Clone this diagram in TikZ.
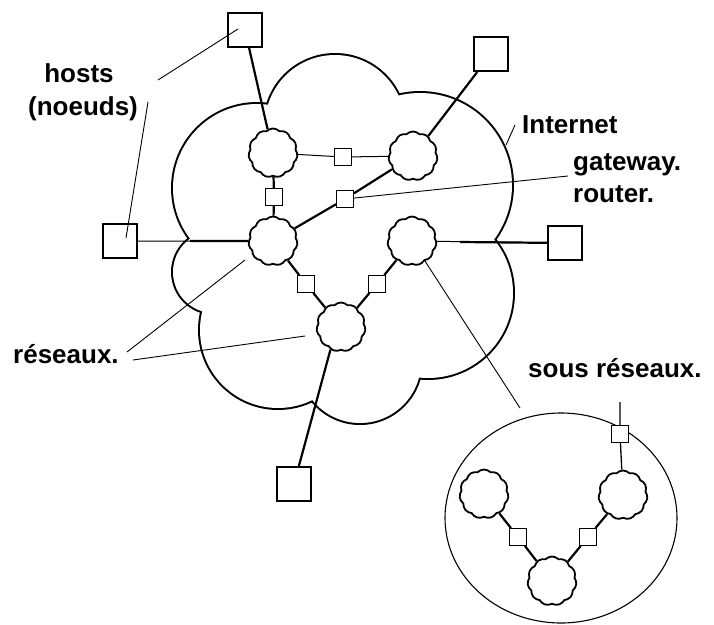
\documentclass[tikz,border=0pt]{standalone}
\usepackage{fontspec}
\setmainfont{Liberation Sans}
\usetikzlibrary{shapes.symbols,shapes.geometric}
\begin{document}
\begin{tikzpicture}[x=1pt,y=-1pt,
  host/.style={draw, line width=2pt, minimum size=34pt, inner sep=0pt},
  gate/.style={draw, line width=1.4pt, minimum size=16.5pt, inner sep=0pt, fill=white},
  net/.style={cloud, cloud puffs=11, cloud puff arc=90, aspect=1, draw, line width=1.8pt, minimum size=49pt, inner sep=0pt, fill=white},
  thicklink/.style={line width=2.2pt},
  thinlink/.style={line width=1pt},
  leader/.style={line width=0.9pt},
  lab/.style={font=\fontsize{26}{31}\selectfont\bfseries, inner sep=0pt}
]
\useasboundingbox (0,0) rectangle (714,624);
% cloud outline (union of circles)
\foreach \cx/\cy/\r in {257/188/84, 335/125/70, 420/185/92, 428/293/85, 360/362/61, 278/330/78, 214/272/41}
  \draw[line width=4pt] (\cx,\cy) circle[radius=\r pt];
\foreach \cx/\cy/\r in {257/188/84, 335/125/70, 420/185/92, 428/293/85, 360/362/61, 278/330/78, 214/272/41, 340/260/100}
  \fill[white] (\cx,\cy) circle[radius=\r pt];

% networks
\node[net] (n1) at (273,153) {};
\node[net] (n2) at (413,156) {};
\node[net] (n3) at (273,241) {};
\node[net] (n4) at (412,241) {};
\node[net] (n5) at (341,327) {};
% gateways
\node[gate] (g1) at (343,157) {};
\node[gate] (g2) at (274,197) {};
\node[gate] (g3) at (345,199) {};
\node[gate] (g4) at (306,284) {};
\node[gate] (g5) at (377,284) {};
% hosts
\node[host] (h1) at (245,30) {};
\node[host] (h2) at (491,54) {};
\node[host] (h3) at (120,241) {};
\node[host] (h4) at (565,243) {};
\node[host] (h5) at (294,484) {};

\coordinate (c3) at (190,241);
\coordinate (c4) at (460,242);

% links
\draw[thinlink] (n1) -- (g1) -- (n2);
\draw[thicklink] (n1) -- (g2) -- (n3);
\draw[thicklink] (n3) -- (g3) -- (n2);
\draw[thicklink] (n3) -- (g4) -- (n5);
\draw[thicklink] (n4) -- (g5) -- (n5);
\draw[thicklink] (h1) -- (n1);
\draw[thicklink] (h2) -- (n2);
\draw[thinlink] (h3) -- (n3);
\draw[thicklink] (c3) -- (n3);
\draw[thinlink] (n4) -- (h4);
\draw[thicklink] (c4) -- (h4);
\draw[thicklink] (n5.245) -- (h5);

% labels
\node[lab, anchor=base] (hosts) at (79,82) {hosts};
\node[lab, anchor=base] (noeuds) at (83,115) {(noeuds)};
\node[lab, anchor=base west] (inet) at (522,133) {Internet};
\node[lab, anchor=base west] (gw) at (573,170) {gateway.};
\node[lab, anchor=base west] (rt) at (573,202) {router.};
\node[lab, anchor=base west] (res) at (13,363) {réseaux.};
\node[lab, anchor=base west] (sres) at (528,377) {sous réseaux.};

% leader lines
\coordinate (lh1) at (158,80);
\coordinate (h1p) at (238,29);
\coordinate (lh2) at (148,102);
\coordinate (h3p) at (126,238);
\coordinate (li1) at (515,125);
\coordinate (li2) at (506,145);
\coordinate (lgw) at (568,176);
\coordinate (lr1) at (127,352);
\coordinate (r3p) at (245,260);
\coordinate (lr2) at (133,360);
\coordinate (r5p) at (305,336);
\coordinate (lsr) at (520,408);
\draw[leader] (lh1) -- (h1p);
\draw[leader] (lh2) -- (h3p);
\draw[leader] (li1) -- (li2);
\draw[leader] (g3) -- (lgw);
\draw[leader] (lr1) -- (r3p);
\draw[leader] (lr2) -- (r5p);
\draw[leader] (n4) -- (lsr);

% sub-network
\node[draw, ellipse, line width=1.1pt, minimum width=232pt, minimum height=210pt, inner sep=0pt] (sub) at (561,518) {};
\node[net] (s1) at (484,494) {};
\node[net] (s2) at (623,495) {};
\node[net] (s3) at (552,581) {};
\node[gate] (sg1) at (518,537) {};
\node[gate] (sg2) at (588,537) {};
\node[gate] (sg0) at (620,434) {};
\coordinate (st) at (620,402);
\draw[line width=1.3pt] (st) -- (sg0) -- (s2);
\draw[thicklink] (s1) -- (sg1) -- (s3);
\draw[thicklink] (s2) -- (sg2) -- (s3);
\end{tikzpicture}
\end{document}
